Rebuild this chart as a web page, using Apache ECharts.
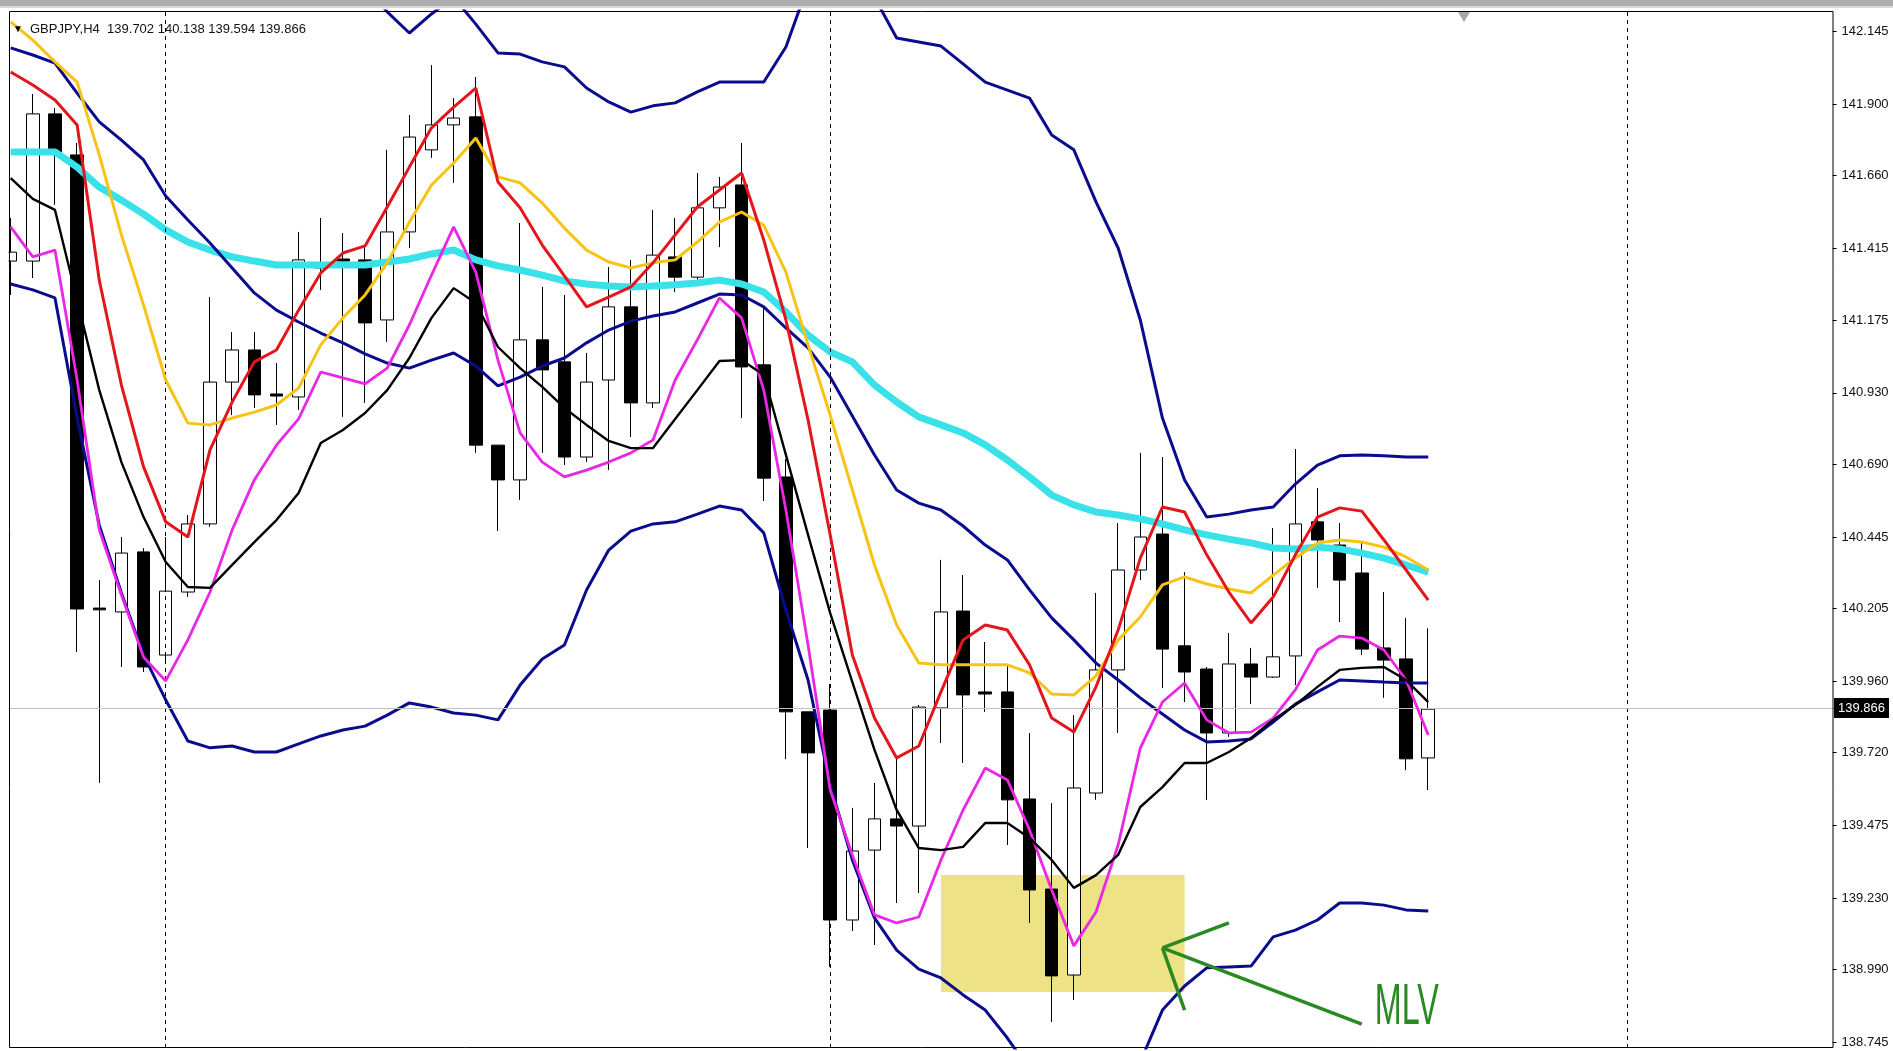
<!DOCTYPE html>
<html>
<head>
<meta charset="utf-8">
<title>GBPJPY,H4</title>
<script src="https://cdn.jsdelivr.net/npm/echarts@6/dist/echarts.min.js"></script>
<style>
  html, body { margin: 0; padding: 0; background: #fff; }
  #chart { width: 1893px; height: 1051px; }
</style>
</head>
<body>
<div id="chart"></div>
<script>
var symbolText = 'GBPJPY,H4';
var barSlots = 83; // visible bar slots, the chart is shifted from the right edge

// [open, close, low, high]
var candles = [
  [141.373, 141.403, 141.259, 141.518], [141.373, 141.868, 141.316, 141.935], [141.868, 141.740, 141.562, 141.888],
  [141.730, 140.203, 140.058, 141.770], [140.206, 140.200, 139.618, 140.300], [140.193, 140.391, 140.008, 140.445],
  [140.395, 140.008, 139.991, 140.408], [140.048, 140.263, 140.025, 140.445], [140.260, 140.489, 140.243, 140.519],
  [140.489, 140.966, 140.479, 141.252], [140.966, 141.074, 140.855, 141.134], [141.074, 140.923, 140.879, 141.134],
  [140.926, 140.919, 140.822, 141.030], [140.916, 141.377, 140.872, 141.471], [141.350, 141.360, 141.276, 141.518],
  [141.380, 141.373, 140.849, 141.467], [141.377, 141.165, 140.896, 141.420], [141.175, 141.471, 141.101, 141.747],
  [141.471, 141.790, 141.417, 141.864], [141.747, 141.831, 141.720, 142.032], [141.831, 141.854, 141.636, 141.921],
  [141.858, 140.754, 140.728, 141.992], [140.754, 140.637, 140.465, 140.754], [140.637, 141.108, 140.570, 141.501],
  [141.108, 141.007, 140.728, 141.286], [141.034, 140.714, 140.687, 141.259], [140.714, 140.966, 140.697, 141.064],
  [140.973, 141.219, 140.670, 141.353], [141.219, 140.896, 140.781, 141.377], [140.896, 141.393, 140.879, 141.545],
  [141.387, 141.319, 141.269, 141.518], [141.319, 141.552, 141.303, 141.669], [141.552, 141.622, 141.420, 141.656],
  [141.629, 141.017, 140.845, 141.770], [141.024, 140.643, 140.566, 141.215], [140.647, 139.857, 139.698, 140.707],
  [139.857, 139.719, 139.399, 139.857], [139.863, 139.157, 138.999, 139.951], [139.157, 139.389, 139.120, 139.534],
  [139.392, 139.497, 139.073, 139.618], [139.497, 139.473, 139.214, 139.702], [139.473, 139.873, 139.248, 139.880],
  [139.870, 140.193, 139.752, 140.368], [140.196, 139.914, 139.685, 140.317], [139.924, 139.917, 139.857, 140.092],
  [139.924, 139.561, 139.409, 140.018], [139.564, 139.258, 139.147, 139.786], [139.261, 138.969, 138.814, 139.550],
  [138.972, 139.601, 138.888, 139.846], [139.584, 139.998, 139.561, 140.257], [139.998, 140.334, 139.786, 140.492],
  [140.334, 140.445, 140.300, 140.728], [140.455, 140.068, 139.937, 140.714], [140.079, 139.991, 139.890, 140.327],
  [140.001, 139.786, 139.561, 140.008], [139.786, 140.018, 139.773, 140.122], [140.018, 139.974, 139.883, 140.072],
  [139.974, 140.042, 139.971, 140.475], [140.045, 140.489, 139.947, 140.741], [140.496, 140.435, 140.274, 140.610],
  [140.418, 140.300, 140.159, 140.492], [140.324, 140.068, 140.048, 140.425], [140.072, 140.031, 139.904, 140.260],
  [140.035, 139.699, 139.661, 140.173], [139.702, 139.866, 139.594, 140.138]
];

// bollinger bands
var upperBand = [
  null, null, null, null, null, null, null, null, null, null,
  null, null, null, null, null, null, 142.300, 142.211, 142.140, 142.204,
  142.260, 142.170, 142.073, 142.069, 142.043, 142.026, 141.955, 141.908, 141.874, 141.895,
  141.905, 141.942, 141.975, 141.975, 141.975, 142.093, 142.300, 142.380, 142.360, 142.260,
  142.123, 142.110, 142.096, 142.036, 141.975, 141.948, 141.921, 141.797, 141.747, 141.572,
  141.417, 141.175, 140.845, 140.637, 140.512, 140.522, 140.536, 140.546, 140.623, 140.687,
  140.718, 140.721, 140.718, 140.714, 140.714
];
var middleBand = [
  142.090, 142.066, 142.039, 141.938, 141.841, 141.780, 141.713, 141.592, 141.511, 141.434,
  141.350, 141.266, 141.208, 141.168, 141.131, 141.098, 141.061, 141.030, 141.013, 141.040,
  141.064, 141.020, 140.953, 140.983, 141.020, 141.047, 141.098, 141.141, 141.171, 141.188,
  141.202, 141.232, 141.262, 141.259, 141.219, 141.148, 141.081, 140.983, 140.852, 140.721,
  140.603, 140.559, 140.536, 140.482, 140.418, 140.368, 140.267, 140.173, 140.099, 140.021,
  139.964, 139.904, 139.850, 139.796, 139.756, 139.759, 139.766, 139.823, 139.883, 139.924,
  139.964, 139.961, 139.957, 139.954, 139.954
];
var lowerBand = [
  141.296, 141.276, 141.249, 140.845, 140.485, 140.257, 140.048, 139.897, 139.759, 139.736,
  139.742, 139.722, 139.722, 139.749, 139.776, 139.796, 139.809, 139.846, 139.887, 139.873,
  139.853, 139.846, 139.830, 139.947, 140.035, 140.082, 140.267, 140.401, 140.465, 140.489,
  140.496, 140.522, 140.549, 140.536, 140.459, 140.200, 139.964, 139.611, 139.359, 139.164,
  139.056, 138.992, 138.962, 138.905, 138.854, 138.760, 138.653, 138.585, 138.552, 138.585,
  138.659, 138.680, 138.854, 138.935, 138.996, 138.999, 139.002, 139.100, 139.123, 139.157,
  139.214, 139.214, 139.207, 139.191, 139.187
];

// moving averages
var cyanMa = [
  141.740, 141.740, 141.740, 141.689, 141.622, 141.578, 141.531, 141.478, 141.437, 141.410,
  141.387, 141.373, 141.360, 141.360, 141.360, 141.360, 141.360, 141.370, 141.380, 141.397,
  141.410, 141.377, 141.357, 141.343, 141.326, 141.306, 141.296, 141.289, 141.286, 141.289,
  141.293, 141.299, 141.309, 141.296, 141.269, 141.202, 141.124, 141.067, 141.034, 140.956,
  140.899, 140.849, 140.822, 140.795, 140.755, 140.704, 140.647, 140.586, 140.553, 140.529,
  140.519, 140.506, 140.489, 140.469, 140.452, 140.438, 140.425, 140.408, 140.405, 140.411,
  140.405, 140.391, 140.374, 140.351, 140.327
];
var redMa = [
  142.009, 141.965, 141.915, 141.831, 141.309, 140.956, 140.681, 140.496, 140.445, 140.738,
  140.899, 141.034, 141.074, 141.208, 141.333, 141.400, 141.424, 141.555, 141.689, 141.821,
  141.891, 141.955, 141.639, 141.552, 141.427, 141.323, 141.219, 141.252, 141.286, 141.367,
  141.461, 141.555, 141.612, 141.669, 141.444, 141.175, 140.839, 140.452, 140.048, 139.836,
  139.702, 139.742, 139.924, 140.099, 140.149, 140.132, 140.015, 139.836, 139.789, 139.941,
  140.132, 140.374, 140.546, 140.529, 140.385, 140.260, 140.156, 140.243, 140.385, 140.512,
  140.543, 140.532, 140.435, 140.334, 140.233
];
var goldMa = [
  142.177, 142.116, 142.043, 141.975, 141.730, 141.461, 141.225, 140.973, 140.828, 140.822,
  140.845, 140.865, 140.889, 140.946, 141.091, 141.182, 141.259, 141.367, 141.504, 141.629,
  141.703, 141.787, 141.656, 141.636, 141.568, 141.484, 141.410, 141.370, 141.350, 141.367,
  141.377, 141.437, 141.504, 141.538, 141.494, 141.336, 141.091, 140.855, 140.603, 140.351,
  140.149, 140.021, 140.015, 140.015, 140.015, 140.015, 139.988, 139.917, 139.914, 139.978,
  140.099, 140.176, 140.284, 140.311, 140.287, 140.270, 140.257, 140.317, 140.374, 140.425,
  140.435, 140.428, 140.411, 140.378, 140.334
];
var magentaMa = [
  141.488, 141.387, 141.410, 140.973, 140.469, 140.250, 140.041, 139.961, 140.099, 140.260,
  140.469, 140.637, 140.754, 140.842, 141.000, 140.980, 140.960, 141.013, 141.158, 141.326,
  141.488, 141.336, 141.040, 140.795, 140.697, 140.647, 140.670, 140.697, 140.728, 140.771,
  140.973, 141.108, 141.249, 141.182, 140.939, 140.536, 140.082, 139.594, 139.376, 139.174,
  139.147, 139.167, 139.359, 139.527, 139.668, 139.628, 139.460, 139.258, 139.070, 139.184,
  139.409, 139.735, 139.890, 139.954, 139.830, 139.786, 139.789, 139.836, 139.931, 140.065,
  140.112, 140.105, 140.065, 139.964, 139.779
];
var blackMa = [
  141.652, 141.582, 141.545, 141.242, 140.939, 140.697, 140.512, 140.361, 140.277, 140.274,
  140.351, 140.428, 140.502, 140.593, 140.761, 140.805, 140.862, 140.939, 141.047, 141.182,
  141.282, 141.232, 141.084, 141.013, 140.950, 140.879, 140.822, 140.768, 140.744, 140.744,
  140.842, 140.939, 141.037, 141.040, 140.990, 140.721, 140.452, 140.189, 139.957, 139.729,
  139.527, 139.399, 139.392, 139.403, 139.483, 139.483, 139.433, 139.359, 139.265, 139.308,
  139.376, 139.537, 139.604, 139.685, 139.685, 139.722, 139.769, 139.830, 139.880, 139.941,
  139.998, 140.005, 140.008, 139.964, 139.890
];

var priceTicks = [142.145, 141.900, 141.660, 141.415, 141.175, 140.930, 140.690, 140.445,
  140.205, 139.960, 139.720, 139.475, 139.230, 138.990, 138.745];
var lastPrice = 139.866;
var separators = [7, 37, 73];

// MLV zone: bar from, bar to, price top, price bottom
var mlvZone = [42, 53, 139.308, 138.915];
// arrow strokes: bar, price -> bar, price
var mlvArrow = [
  [52, 139.063, 55, 139.147],
  [52, 139.063, 53, 138.854],
  [52, 139.063, 61, 138.807]
];
var mlvLabel = [61, 138.861];

var categories = [];
for (var k = 0; k < barSlots; k++) categories.push(String(k));

var last = candles[candles.length - 1];
var headerText = symbolText + '  ' + [last[0], last[3], last[2], last[1]].map(function (v) {
  return v.toFixed(3);
}).join(' ');

var uiFont = '"Liberation Sans", Arial, sans-serif';
var green = '#2a8a22';

function maLine(data, color, width, z) {
  return {
    type: 'line', data: data, symbol: 'none', showSymbol: false, silent: true,
    z: z, lineStyle: { color: color, width: width }, itemStyle: { color: color }
  };
}

var chart = echarts.init(document.getElementById('chart'));
chart.setOption({
  animation: false,
  backgroundColor: '#fff',
  grid: { left: -0.4, right: 55, top: 11, bottom: 3, outerBoundsMode: 'none', containLabel: false },
  xAxis: {
    type: 'category', data: categories, boundaryGap: true, show: false
  },
  yAxis: {
    type: 'value', position: 'right', offset: -5.4,
    min: 138.7265, max: 142.214, scale: true,
    splitLine: { show: false },
    axisLine: { show: false },
    axisTick: { show: true, length: 4, customValues: priceTicks, lineStyle: { color: '#000' } },
    axisLabel: {
      customValues: priceTicks, margin: 9, color: '#111', fontSize: 13, fontFamily: uiFont,
      formatter: function (v) { return v.toFixed(3); }
    }
  },
  graphic: [
    { type: 'rect', z: 100, shape: { x: 0, y: 0, width: 8.5, height: 1051 }, style: { fill: '#fff' } },
    { type: 'rect', z: 101, shape: { x: 0, y: 0, width: 1893, height: 6 }, style: { fill: '#adadad' } },
    { type: 'rect', z: 101, shape: { x: 0, y: 6, width: 1893, height: 2 }, style: { fill: '#d8d8d8' } },
    { type: 'rect', z: 101, shape: { x: 9.5, y: 11.5, width: 1823.5, height: 1036 },
      style: { fill: 'none', stroke: '#000', lineWidth: 1 } },
    { type: 'polygon', z: 101, shape: { points: [[1458, 12], [1470, 12], [1464, 22]] }, style: { fill: '#a9a9a9' } },
    { type: 'text', z: 101, x: 13, y: 29,
      style: { text: '\u25BC', fill: '#000', font: '10px ' + uiFont, verticalAlign: 'middle' } },
    { type: 'text', z: 101, x: 30, y: 29,
      style: { text: headerText, fill: '#111', font: '13px ' + uiFont, verticalAlign: 'middle' } }
  ],
  series: [
    {
      // MLV zone, behind the bars
      type: 'line', data: [], z: 1, silent: true,
      markArea: {
        silent: true,
        itemStyle: { color: '#ede386' },
        data: [[{ xAxis: mlvZone[0], yAxis: mlvZone[2] }, { xAxis: mlvZone[1], yAxis: mlvZone[3] }]]
      },
      markLine: {
        silent: true, symbol: ['none', 'none'], label: { show: false },
        lineStyle: { color: '#000', type: [4, 4], width: 1 },
        data: separators.map(function (i) { return { xAxis: i }; })
      }
    },
    {
      // bid line
      type: 'line', data: [], z: 1, silent: true,
      markLine: {
        silent: true, symbol: ['none', 'none'],
        lineStyle: { color: '#c0c0c0', type: 'solid', width: 1 },
        label: {
          show: true, position: 'end', distance: -4,
          formatter: lastPrice.toFixed(3),
          color: '#fff', backgroundColor: '#000', padding: [4, 4, 3, 4],
          fontSize: 13, fontFamily: uiFont
        },
        data: [{ yAxis: lastPrice }]
      }
    },
    {
      type: 'candlestick', data: candles, barWidth: 13, z: 2, silent: true,
      itemStyle: {
        color: '#fff', color0: '#000',
        borderColor: '#000', borderColor0: '#000', borderColorDoji: '#000',
        borderWidth: 1
      }
    },
    maLine(cyanMa, '#38e2e8', 7, 3),
    maLine(upperBand, '#0b0b8e', 3, 4),
    maLine(middleBand, '#0b0b8e', 3, 4),
    maLine(lowerBand, '#0b0b8e', 3, 4),
    maLine(goldMa, '#f7c415', 3, 5),
    maLine(redMa, '#e3161b', 3, 5),
    maLine(magentaMa, '#e927e4', 2.8, 5),
    maLine(blackMa, '#000000', 2.4, 5),
    {
      type: 'line', data: [], z: 8, silent: true,
      markLine: {
        silent: true, symbol: ['none', 'none'], label: { show: false },
        lineStyle: { color: green, type: 'solid', width: 3.5 },
        data: mlvArrow.map(function (a) {
          return [{ coord: [a[0], a[1]] }, { coord: [a[2], a[3]] }];
        })
      }
    },
    {
      type: 'custom', z: 9, silent: true,
      data: [mlvLabel],
      renderItem: function (params, api) {
        var pt = api.coord([api.value(0), api.value(1)]);
        return {
          type: 'text',
          x: pt[0] + 13, y: pt[1],
          scaleX: 0.95, scaleY: 1.7,
          style: {
            text: 'MLV', fill: green, font: '34px ' + uiFont,
            align: 'left', verticalAlign: 'middle'
          }
        };
      }
    }
  ]
});
</script>
</body>
</html>
